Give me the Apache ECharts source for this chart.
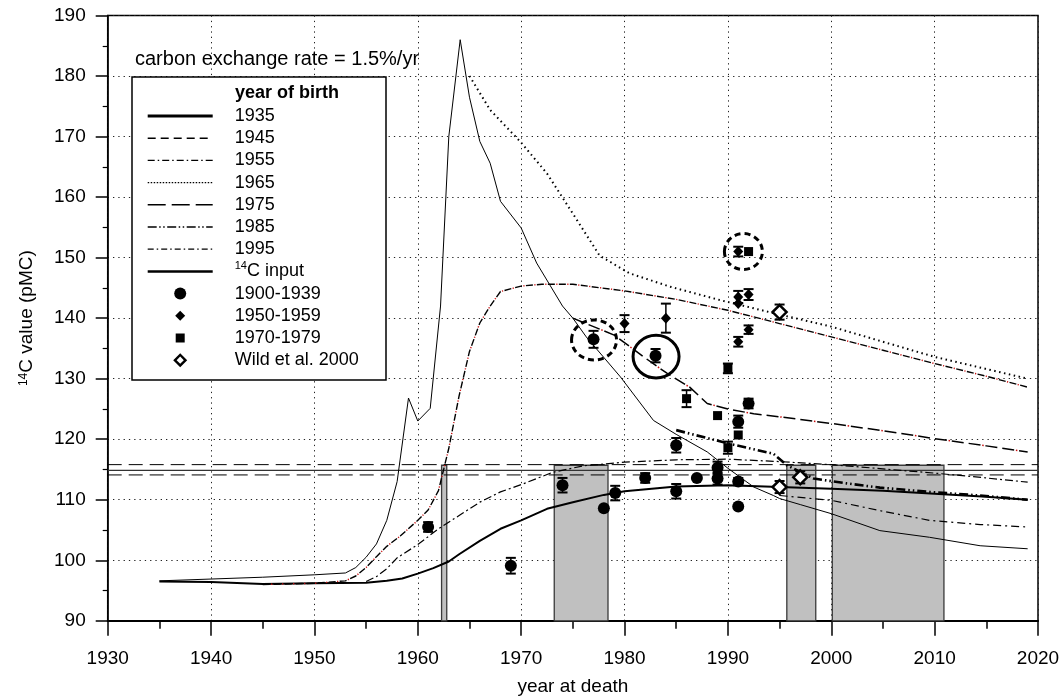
<!DOCTYPE html>
<html><head><meta charset="utf-8">
<script src="https://cdn.jsdelivr.net/npm/echarts/dist/echarts.min.js"></script>
<style>html,body{margin:0;padding:0;background:#fff}#c{width:1062px;height:700px}</style>
</head><body><div id="c"></div>
<script>
// ---------------- data ----------------
const xRange = [1930, 2020, 10];
const yRange = [90, 190, 10];

const input14C = [[1935,96.6],[1940,96.9],[1945,97.2],[1950,97.6],[1953,97.9],[1954,98.8],[1955,100.5],[1956,102.7],[1957,106.6],[1958,113.0],[1959.1,126.8],[1960,123.0],[1961.2,125.1],[1962.2,142.0],[1963,170.0],[1964.1,186.0],[1965,176.5],[1966,169.2],[1967,165.6],[1968,159.3],[1970,154.9],[1971.5,149.1],[1974,142.0],[1975,140.0],[1976.3,136.9],[1979.6,130.3],[1982.8,123.1],[1985,120.8],[1988,117.9],[1990,115.2],[1992.5,112.1],[1994.4,110.7],[1995,110.2],[1997,109.2],[2000,107.7],[2004.7,104.9],[2009.5,103.8],[2014.4,102.4],[2019,101.9]];

const birth1935 = [[1935,96.5],[1940,96.4],[1945,96.1],[1950,96.2],[1955,96.3],[1957,96.6],[1958.5,97.0],[1960,97.8],[1961.5,98.7],[1963,99.8],[1964,101.0],[1966,103.2],[1968,105.2],[1970,106.6],[1972.5,108.5],[1975,109.6],[1978,110.8],[1980,111.4],[1985,112.2],[1990,112.4],[1995,112.1],[2000,111.8],[2005,111.5],[2010,111.0],[2015,110.5],[2019,110.0]];
const birth1945 = [[1945,96.0],[1950,96.2],[1953,96.6],[1954,97.4],[1955,98.8],[1956,100.6],[1957,102.3],[1958.3,104.0],[1960,106.6],[1961,108.3],[1962,111.5],[1963,118.5],[1964,127.2],[1965,134.5],[1966,139.2],[1967,142.0],[1968,144.4],[1970,145.3],[1972,145.6],[1975,145.6],[1980,144.5],[1985,143.1],[1990,141.3],[1995,139.1],[2000,136.9],[2005,134.7],[2010,132.5],[2015,130.4],[2019,128.6]];
const birth1955 = [[1955,96.5],[1956,97.3],[1957,98.6],[1958,100.4],[1960,102.6],[1962,105.2],[1964,107.4],[1966,109.6],[1968,111.3],[1970,112.5],[1973,114.5],[1976,115.6],[1980,116.2],[1985,116.6],[1990,116.7],[1995,116.3],[2000,115.8],[2005,115.1],[2010,114.4],[2015,113.6],[2019,112.9]];
const birth1965 = [[1965,180.0],[1967,174.4],[1970,169.0],[1972.5,163.9],[1975.4,156.2],[1977.6,150.3],[1980.5,147.4],[1984.4,145.2],[1989.2,143.0],[1994,141.0],[2000,138.6],[2005,136.1],[2010,133.6],[2015,131.6],[2019,130.0]];
const birth1975 = [[1975,140.0],[1979,137.2],[1982.1,133.3],[1984.1,130.9],[1986.3,128.6],[1988,125.9],[1990,125.0],[1992.5,124.2],[1995,123.7],[2000,122.6],[2005,121.4],[2010,120.1],[2015,118.9],[2019,117.9]];
const birth1985 = [[1985,121.5],[1990,119.3],[1994.4,117.6],[1995.7,115.7],[1998.3,113.5],[2001.5,112.7],[2004.7,112.0],[2009.5,111.3],[2014.4,110.7],[2019,110.0]];
const birth1995 = [[1995,110.7],[2000,109.9],[2004.7,108.2],[2009.5,106.6],[2014.4,105.9],[2019,105.5]];

// measured points: [year of death, pMC, error]
const born1900_1939 = [[1961.0,105.5,0.8],[1969.0,99.1,1.3],[1974.0,112.4,1.2],[1977.0,136.5,1.4],[1978.0,108.6,0],[1979.1,111.1,1.2],[1982.0,113.6,0.8],[1983.0,133.8,1.1],[1985.0,111.4,1.2],[1985.0,119.0,1.2],[1987.0,113.6,0],[1989.0,115.3,1.0],[1989.0,113.5,1.0],[1991.0,113.0,0.6],[1991.0,108.9,0],[1991.0,122.9,1.0],[1992.0,125.9,0.8]];
const born1950_1959 = [[1980.0,139.1,1.4],[1984.0,140.0,2.4],[1991.0,151.0,0.8],[1991.0,143.5,1.0],[1991.0,142.4,0],[1992.0,143.9,0.9],[1992.0,138.1,0.7],[1991.0,136.1,0.8]];
const born1970_1979 = [[1986.0,126.7,1.4],[1989.0,123.9,0],[1990.0,131.7,0.8],[1990.0,118.6,1.0],[1991.0,120.7,0],[1992.0,151.0,0]];
const wild2000 = [[1995.0,141.0,1.25],[1995.0,112.1,1.0],[1997.0,113.7,1.0]];

const periodBars = [[1962.3,1962.8],[1973.2,1978.4],[1995.7,1998.5],[2000.1,2010.9]];
const periodTop = 115.7;
const refLevels = [115.8, 114.85, 114.1];
const dashedCircleCenters = [[1977.05,136.4],[1991.5,151.0]];
const solidCircleCenters = [[1983.05,133.65]];

// ---------------- styles ----------------
const FONT = '"Liberation Sans", Arial, Helvetica, sans-serif';
const BLACK = '#000';
const dashedCircleRadii = [[22.5,20],[19,18]];
const solidCircleRadii = [[23,21.3]];

function dashIcon(pattern, th) {
  let s = 'path://M0,0M82,14';
  let x = 0, i = 0;
  const y0 = 7 - th / 2;
  while (x < 65) {
    const seg = pattern[i % pattern.length];
    const len = Math.min(seg, 65 - x);
    if (i % 2 === 0) s += 'M' + x + ',' + y0 + 'h' + len + 'v' + th + 'h' + (-len) + 'z';
    x += seg; i++;
  }
  return s;
}
const ICON_CIRCLE = 'path://M0,0M82,14M26.5,7A6,6 0 1 0 38.5,7A6,6 0 1 0 26.5,7Z';
const ICON_DIAMOND = 'path://M0,0M82,14M32.5,2L37.5,7L32.5,12L27.5,7Z';
const ICON_SQUARE = 'path://M0,0M82,14M28,2.5L37,2.5L37,11.5L28,11.5Z';
const ICON_HDIAMOND = 'path://M0,0M82,14M32.5,0L39.5,7L32.5,14L25.5,7ZM32.5,3.4L28.9,7L32.5,10.6L36.1,7Z';

const curveDefs = [
  {name:'1935', data:birth1935, width:2, type:'solid', icon:dashIcon([65],3)},
  {name:'1945', data:birth1945, width:1.4, type:[7,4], icon:dashIcon([8,5],1.5), redDot:{type:[1.2,9.8], offset:2.6}},
  {name:'1955', data:birth1955, width:1.2, type:[8,3,2,3], icon:dashIcon([7,3,1.5,3],1.3)},
  {name:'1965', data:birth1965, width:2, type:[1.5,3.5], icon:dashIcon([1.5,1.5],1.3)},
  {name:'1975', data:birth1975, width:1.5, type:[12,5], icon:dashIcon([18,6],1.5), redDot:{type:[1.5,32.5], offset:3.25}},
  {name:'1985', data:birth1985, width:2.6, type:[9,3,1.5,3,1.5,3], icon:dashIcon([9,2.5,1.5,2.5,1.5,2.5],1.3)},
  {name:'1995', data:birth1995, width:1.2, type:[8,4,2,4], icon:dashIcon([6,3,1.5,3],1.3)},
  {name:'14C input', data:input14C, width:1, type:'solid', icon:dashIcon([65],2.5)}
];
const pointDefs = [
  {name:'1900-1939', data:born1900_1939, symbol:'circle', size:12, style:{color:BLACK, opacity:1}, icon:ICON_CIRCLE},
  {name:'1950-1959', data:born1950_1959, symbol:'diamond', size:[10,11], style:{color:BLACK, opacity:1}, icon:ICON_DIAMOND},
  {name:'1970-1979', data:born1970_1979, symbol:'rect', size:9, style:{color:BLACK, opacity:1}, icon:ICON_SQUARE},
  {name:'Wild et al. 2000', data:wild2000, symbol:'diamond', size:14, style:{color:'#fff', borderColor:BLACK, borderWidth:2.5, opacity:1}, icon:ICON_HDIAMOND}
];

const series = [];
series.push({
  name:'periods', type:'custom', z:1, silent:true,
  data: periodBars.map(b => [b[0], b[1], periodTop]),
  encode:{x:[0,1], y:2},
  renderItem(params, api) {
    const a = api.coord([api.value(0), api.value(2)]);
    const b = api.coord([api.value(1), yRange[0]]);
    return {type:'rect', shape:{x:a[0], y:a[1], width:b[0]-a[0], height:b[1]-a[1]},
      style:{fill:'#c0c0c0', stroke:'#3a3a3a', lineWidth:1.3}};
  }
});
const refStyles = [{type:[14,7], color:BLACK, width:1},{type:'solid', color:'#333', width:1.4},{type:[14,7], color:BLACK, width:1}];
refLevels.forEach((v, i) => {
  series.push({name:'ref'+i, type:'line', z:2, silent:true, symbol:'none', animation:false,
    data:[[xRange[0], v],[xRange[1], v]], lineStyle:refStyles[i]});
});
curveDefs.forEach(c => {
  series.push({name:c.name, type:'line', z:3, symbol:'none', showSymbol:false, smooth:false,
    data:c.data, lineStyle:{color:BLACK, width:c.width, type:c.type}, itemStyle:{color:BLACK}});
  if (c.redDot) {
    series.push({name:c.name + ' dots', type:'line', z:3, silent:true, symbol:'none', showSymbol:false,
      data:c.data, lineStyle:{color:'#cc1111', width:c.width, type:c.redDot.type, dashOffset:c.redDot.offset}});
  }
});
const errData = [].concat(born1900_1939, born1950_1959, born1970_1979, wild2000);
series.push({
  name:'errors', type:'custom', z:4, silent:true, data:errData, encode:{x:0, y:1},
  renderItem(params, api) {
    const x = api.value(0), y = api.value(1), e = api.value(2);
    if (!(e > 0)) return null;
    const t = api.coord([x, y + e]), b = api.coord([x, y - e]);
    const w = 5;
    return {type:'group', children:[
      {type:'line', shape:{x1:t[0], y1:t[1], x2:b[0], y2:b[1]}, style:{stroke:BLACK, lineWidth:1.5}},
      {type:'line', shape:{x1:t[0]-w, y1:t[1], x2:t[0]+w, y2:t[1]}, style:{stroke:BLACK, lineWidth:2}},
      {type:'line', shape:{x1:b[0]-w, y1:b[1], x2:b[0]+w, y2:b[1]}, style:{stroke:BLACK, lineWidth:2}}
    ]};
  }
});
pointDefs.forEach(p => {
  series.push({name:p.name, type:'scatter', z:5, symbol:p.symbol, symbolSize:p.size,
    data:p.data.map(d => [d[0], d[1]]), itemStyle:p.style, emphasis:{disabled:true}});
});
function ellipseSeries(name, centers, radii, dash) {
  return {name, type:'custom', z:6, silent:true, data:centers, encode:{x:0, y:1},
    renderItem(params, api) {
      const c = api.coord([api.value(0), api.value(1)]);
      const r = radii[params.dataIndex];
      return {type:'ellipse', shape:{cx:c[0], cy:c[1], rx:r[0], ry:r[1]},
        style:{fill:'none', stroke:BLACK, lineWidth:3, lineDash:dash}};
    }};
}
series.push(ellipseSeries('dashedCircles', dashedCircleCenters, dashedCircleRadii, [6,4]));
series.push(ellipseSeries('solidCircles', solidCircleCenters, solidCircleRadii, null));

const legendData = curveDefs.map(c => ({name:c.name, icon:c.icon, itemStyle:{color:BLACK, borderWidth:0}}))
  .concat(pointDefs.map(p => ({name:p.name, icon:p.icon, itemStyle:{color:BLACK, borderWidth:0, opacity:1}})));

const axisFont = {color:BLACK, fontSize:19, fontFamily:FONT};
const option = {
  animation:false,
  backgroundColor:'#fff',
  grid:{left:107.7, right:24, top:15.5, bottom:79.2, show:true, borderColor:BLACK, borderWidth:1.5, backgroundColor:'transparent', outerBoundsMode:'none', containLabel:false},
  xAxis:{type:'value', min:xRange[0], max:xRange[1], interval:xRange[2],
    name:'year at death', nameLocation:'middle', nameGap:56, nameTextStyle:axisFont,
    axisLine:{show:true, lineStyle:{color:BLACK, width:2}},
    axisTick:{show:true, inside:false, length:15, lineStyle:{color:BLACK, width:1.5}},
    minorTick:{show:true, splitNumber:2, length:8, lineStyle:{color:BLACK, width:1.5}},
    axisLabel:Object.assign({margin:28, showMinLabel:true, showMaxLabel:true, formatter:v => String(v)}, axisFont),
    splitLine:{show:true, lineStyle:{color:'#222', width:1, type:[1.3,4]}},
    minorSplitLine:{show:false}
  },
  yAxis:{type:'value', min:yRange[0], max:yRange[1], interval:yRange[2],
    name:'{sup|14}C value (pMC)', nameLocation:'middle', nameGap:71, nameRotate:90,
    nameTextStyle:Object.assign({rich:{sup:{fontSize:12, verticalAlign:'top', color:BLACK, fontFamily:FONT}}}, axisFont),
    axisLine:{show:true, lineStyle:{color:BLACK, width:1.5}},
    axisTick:{show:true, inside:false, length:12, lineStyle:{color:BLACK, width:1.5}},
    minorTick:{show:true, splitNumber:2, length:5, lineStyle:{color:BLACK, width:1.2}},
    axisLabel:Object.assign({margin:22, showMinLabel:true, showMaxLabel:true, formatter:v => String(v)}, axisFont),
    splitLine:{show:true, lineStyle:{color:'#222', width:1, type:[1.3,4]}}
  },
  legend:{show:true, orient:'vertical', left:147.7, top:105, padding:0, itemGap:0.2,
    itemWidth:82, itemHeight:14, selectedMode:false, z:4,
    itemStyle:{borderWidth:0},
    textStyle:{color:BLACK, fontSize:18, lineHeight:22, fontFamily:FONT,
      rich:{sup:{fontSize:11, verticalAlign:'top', color:BLACK, fontFamily:FONT}}},
    formatter: n => n === '14C input' ? '{sup|14}C input' : n,
    data:legendData
  },
  graphic:[
    {type:'rect', z:3, silent:true, shape:{x:132, y:77, width:254, height:303}, style:{fill:'#fff', stroke:BLACK, lineWidth:1.5}},
    {type:'text', z:5, silent:true, x:235, y:93.3, style:{text:'year of birth', font:'bold 18px ' + FONT, fill:BLACK, verticalAlign:'middle'}},
    {type:'text', z:5, silent:true, x:135, y:59.7, style:{text:'carbon exchange rate = 1.5%/yr', font:'20px ' + FONT, fill:BLACK, verticalAlign:'middle'}}
  ],
  series
};
const chart = echarts.init(document.getElementById('c'), null, {renderer:'canvas'});
chart.setOption(option);
</script></body></html>
